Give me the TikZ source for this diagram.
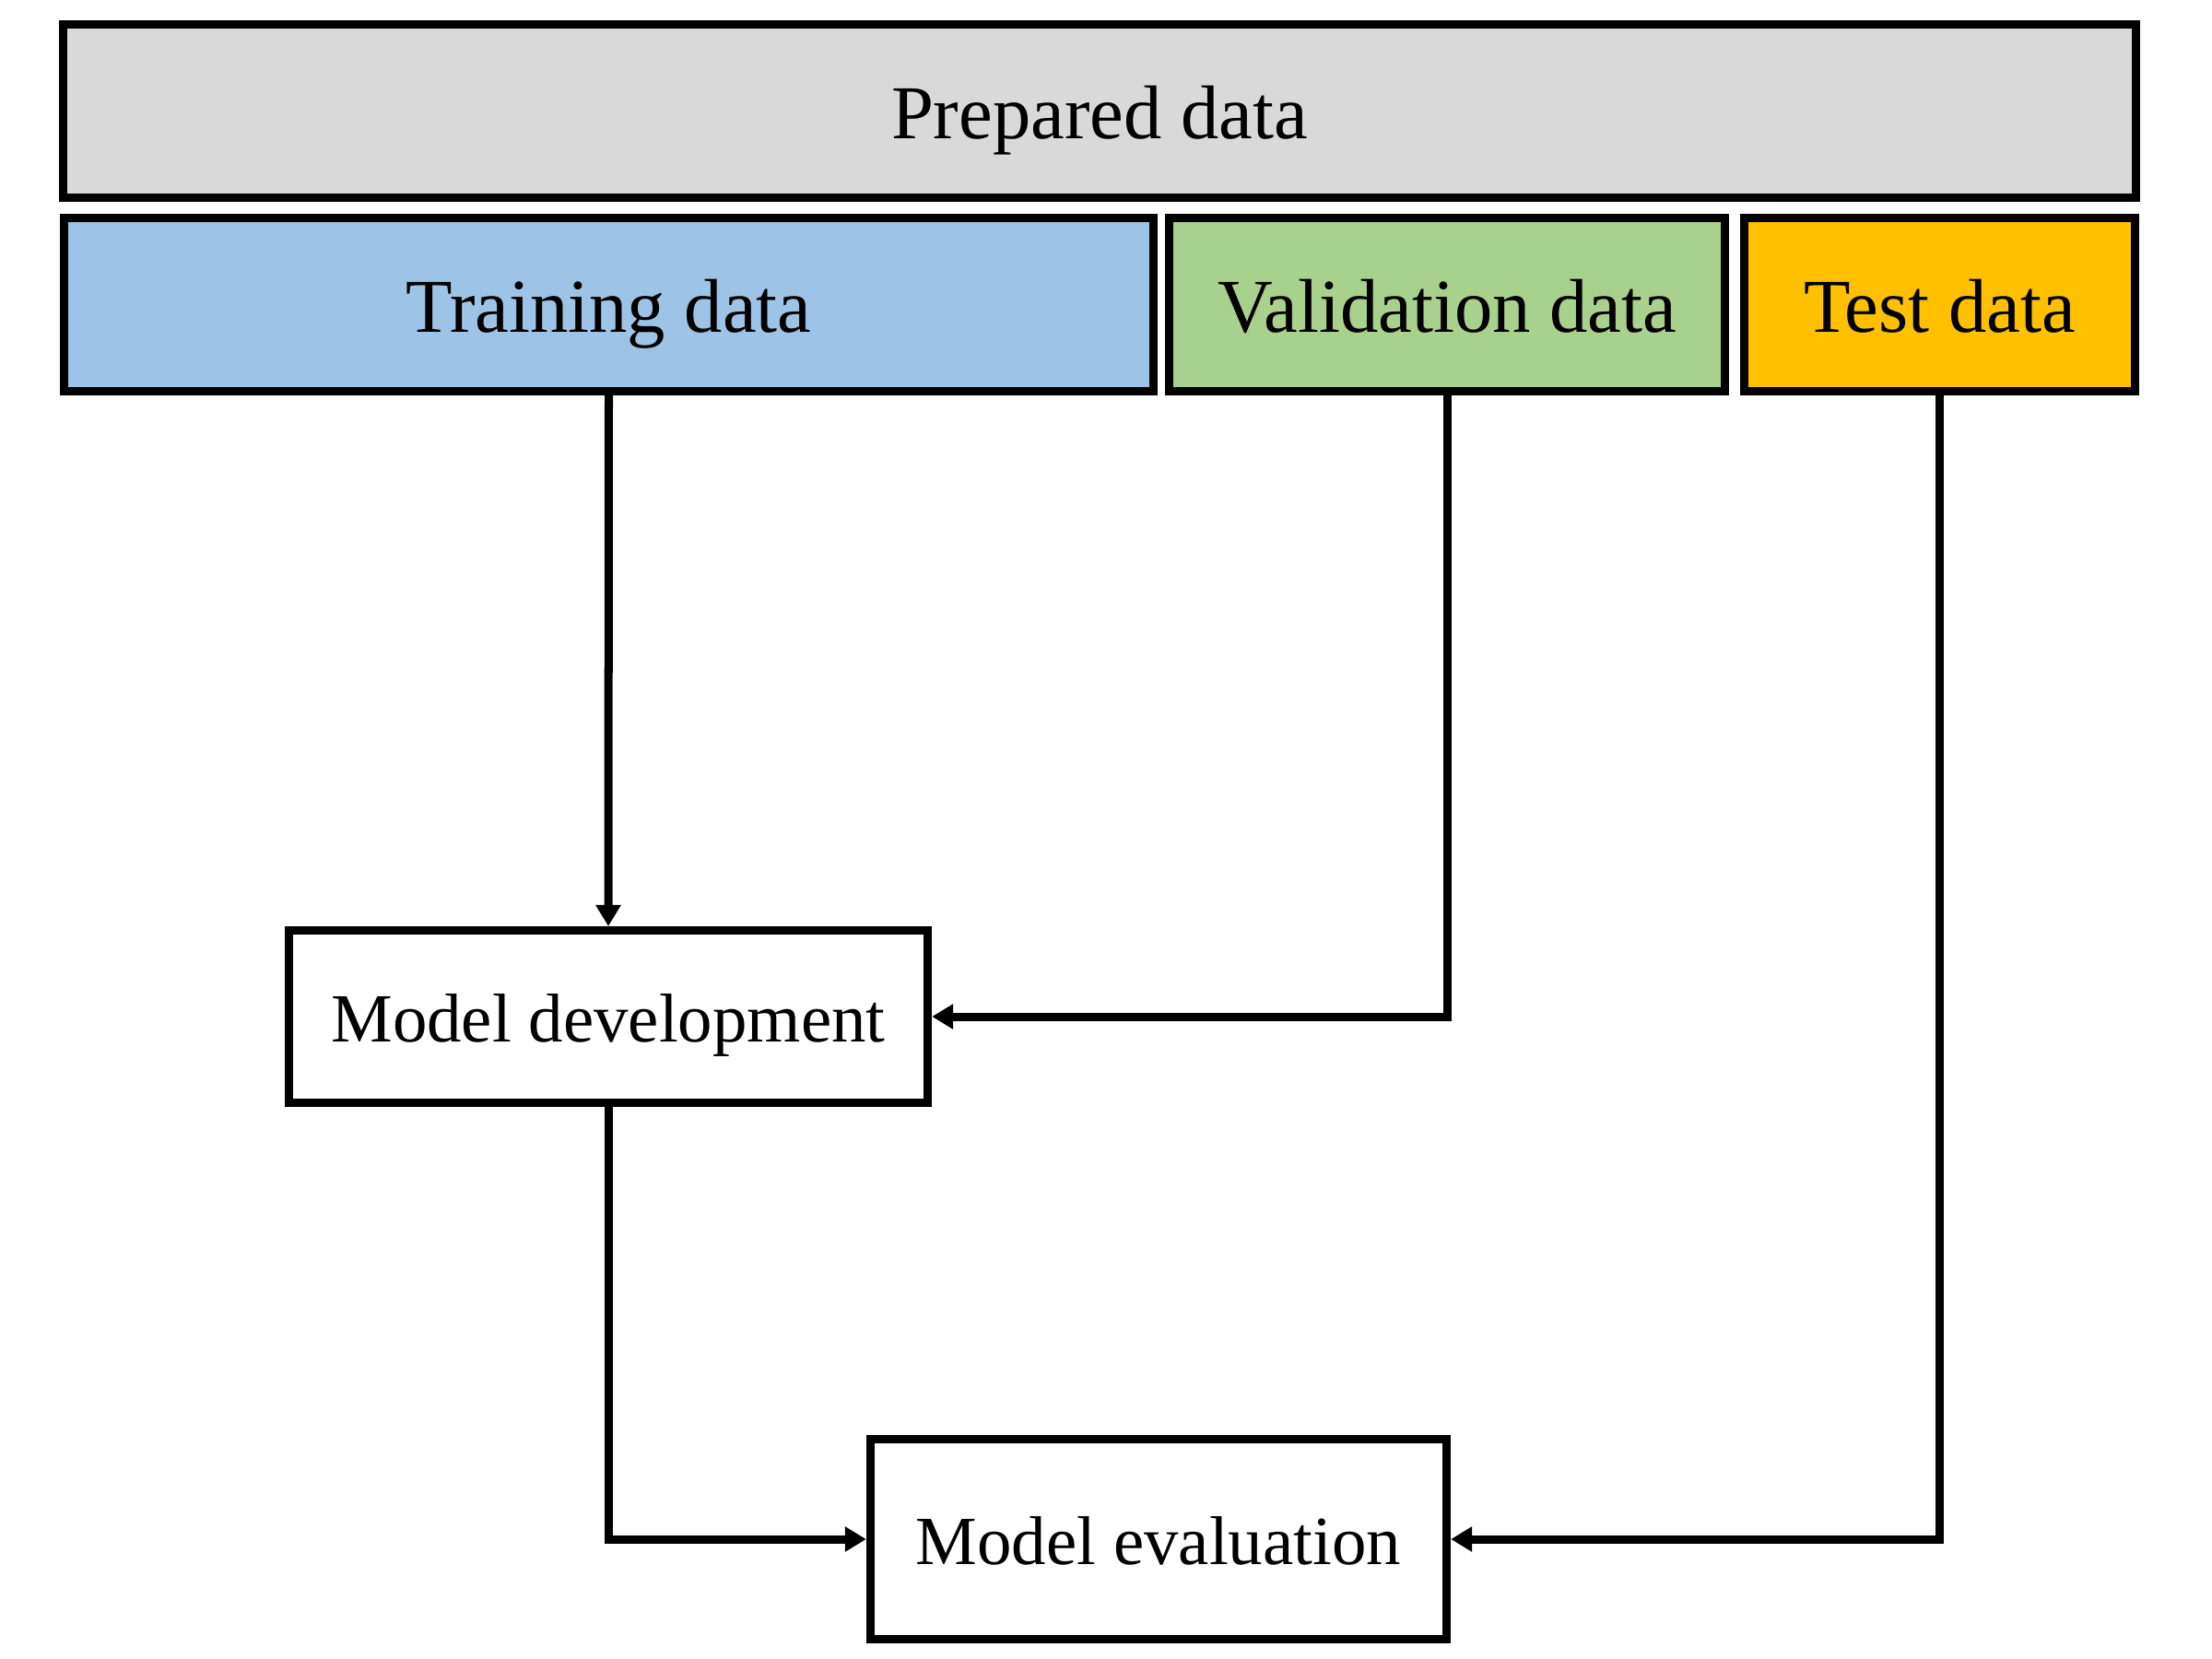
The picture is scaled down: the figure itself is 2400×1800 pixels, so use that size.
\documentclass[tikz,border=0pt]{standalone}
\usepackage{fontspec}
\setmainfont{Liberation Serif}
\usetikzlibrary{arrows.meta}
\definecolor{prepgray}{HTML}{D9D9D9}
\definecolor{trainblue}{HTML}{9DC3E6}
\definecolor{valgreen}{HTML}{A9D18E}
\definecolor{testorange}{HTML}{FFC000}
\begin{document}
\begin{tikzpicture}[x=0.01cm,y=-0.01cm,
  box/.style={draw=black, line width=0.09cm, rectangle, inner sep=0pt,
    text depth=0pt, anchor=center},
  topfont/.style={font=\fontsize{23.5}{27}\selectfont, text height=16.8pt},
  modfont/.style={font=\fontsize{21.3}{25}\selectfont, text height=15.6pt},
  arr/.style={draw=black, line width=0.09cm, -{Triangle[length=0.23cm,width=0.26cm]}}]
\useasboundingbox[fill=white] (0,0) rectangle (2400,1800);
\node[box, topfont, fill=prepgray, minimum width=22.47cm, minimum height=1.88cm] (pr) at (1193,120.5) {Prepared data};
\node[box, topfont, fill=trainblue, minimum width=11.82cm, minimum height=1.88cm] (tr) at (660.5,330.5) {Training data};
\node[box, topfont, fill=valgreen, minimum width=6.03cm, minimum height=1.88cm] (va) at (1570,330.5) {Validation data};
\node[box, topfont, fill=testorange, minimum width=4.24cm, minimum height=1.88cm] (te) at (2104.5,330.5) {Test data};
\node[box, modfont, fill=white, minimum width=6.93cm, minimum height=1.87cm] (md) at (660,1103) {Model development};
\node[box, modfont, fill=white, minimum width=6.25cm, minimum height=2.17cm] (me) at (1257,1670) {Model evaluation};
\draw[arr] (tr.south) -- (md.north);
\draw[arr] (va.south) |- (md.east);
\draw[arr] (md.south) |- (me.west);
\draw[arr] (te.south) |- (me.east);
\end{tikzpicture}
\end{document}
